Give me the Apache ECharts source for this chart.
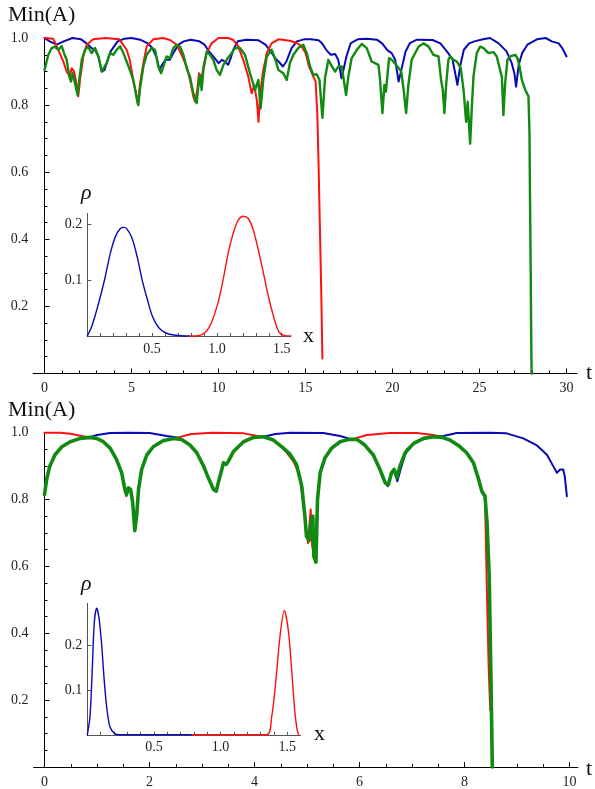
<!DOCTYPE html>
<html><head><meta charset="utf-8">
<script src="https://cdn.jsdelivr.net/npm/echarts@6/dist/echarts.min.js"></script>
<style>html,body{margin:0;padding:0;background:#fff}#c{width:595px;height:789px}</style>
</head><body><div id="c"></div>
<script>
// ---------- DATA ----------
// top panel: [t, Min(A)]
const topBlue = [[0,1.0],[0.3,0.99],[0.7,0.98],[1.1,0.99],[1.6,1.0],[2.1,0.996],[2.42,0.984],[2.7,0.97],[2.9,0.965],[3.1,0.945],[3.29,0.9],[3.45,0.905],[3.6,0.93],[3.8,0.96],[4.0,0.975],[4.2,0.99],[4.6,0.998],[5.0,1.0],[5.5,0.995],[5.9,0.985],[6.2,0.97],[6.45,0.94],[6.6,0.905],[6.75,0.92],[6.95,0.935],[7.2,0.935],[7.4,0.955],[7.7,0.98],[8.0,0.99],[8.4,0.995],[8.9,0.99],[9.2,0.98],[9.45,0.96],[9.7,0.945],[10.0,0.925],[10.2,0.935],[10.35,0.93],[10.55,0.92],[10.7,0.94],[10.85,0.965],[11.1,0.99],[11.6,0.995],[12.3,0.993],[12.7,0.98],[13.0,0.96],[13.25,0.94],[13.45,0.93],[13.7,0.915],[13.9,0.93],[14.2,0.97],[14.5,0.99],[14.9,0.996],[15.3,0.996],[15.75,0.993],[15.95,0.984],[16.2,0.964],[16.45,0.95],[16.7,0.952],[16.88,0.935],[16.98,0.905],[17.07,0.88],[17.2,0.91],[17.35,0.945],[17.6,0.985],[18.0,0.996],[18.5,0.998],[19.1,0.995],[19.4,0.984],[19.7,0.964],[19.95,0.955],[20.15,0.935],[20.35,0.87],[20.55,0.915],[20.75,0.96],[21.0,0.985],[21.4,0.995],[22.3,0.994],[22.75,0.984],[23.2,0.955],[23.45,0.935],[23.6,0.895],[23.73,0.86],[23.88,0.915],[24.1,0.965],[24.4,0.984],[24.7,0.99],[25.2,0.996],[25.6,1.0],[26.1,0.984],[26.55,0.96],[26.85,0.925],[27.0,0.895],[27.1,0.855],[27.25,0.92],[27.45,0.955],[27.75,0.98],[28.3,0.996],[28.8,1.0],[29.15,0.99],[29.55,0.984],[29.75,0.97],[30.0,0.945]];
const topRed = [[0,1.0],[0.5,0.998],[0.8,0.964],[1.08,0.93],[1.27,0.9],[1.45,0.885],[1.56,0.91],[1.7,0.9],[1.85,0.86],[1.94,0.826],[2.04,0.875],[2.23,0.945],[2.42,0.98],[2.8,0.996],[3.5,1.0],[4.3,0.996],[4.72,0.965],[4.9,0.935],[5.1,0.875],[5.3,0.826],[5.37,0.8],[5.49,0.865],[5.7,0.93],[5.87,0.975],[6.25,0.996],[6.83,1.0],[7.21,0.994],[7.6,0.98],[7.88,0.95],[8.17,0.915],[8.36,0.875],[8.55,0.826],[8.65,0.81],[8.78,0.845],[8.88,0.895],[8.98,0.86],[9.13,0.915],[9.32,0.955],[9.6,0.984],[10.0,1.0],[10.56,1.0],[10.85,0.994],[11.14,0.974],[11.42,0.935],[11.71,0.885],[11.9,0.835],[12.05,0.86],[12.2,0.815],[12.3,0.75],[12.38,0.826],[12.54,0.895],[12.77,0.955],[13.05,0.984],[13.44,0.996],[14.1,0.992],[14.5,0.985],[14.78,0.975],[15.0,0.955],[15.2,0.915],[15.45,0.885],[15.58,0.87],[15.68,0.77],[15.75,0.62],[15.82,0.45],[15.9,0.25],[15.97,0.045]];
const topGreen = [[0,0.905],[0.22,0.95],[0.41,0.97],[0.6,0.974],[0.8,0.965],[0.99,0.976],[1.12,0.955],[1.27,0.935],[1.43,0.885],[1.52,0.87],[1.62,0.895],[1.75,0.865],[1.9,0.83],[2.0,0.875],[2.14,0.935],[2.33,0.965],[2.5,0.974],[2.71,0.955],[2.9,0.97],[3.1,0.945],[3.29,0.9],[3.4,0.9],[3.57,0.925],[3.76,0.955],[3.95,0.95],[4.15,0.965],[4.35,0.975],[4.53,0.955],[4.72,0.93],[4.9,0.905],[5.1,0.875],[5.3,0.82],[5.39,0.8],[5.49,0.85],[5.68,0.915],[5.87,0.95],[6.16,0.97],[6.35,0.965],[6.54,0.915],[6.7,0.895],[6.83,0.915],[7.02,0.945],[7.21,0.94],[7.4,0.97],[7.6,0.98],[7.79,0.974],[7.98,0.95],[8.17,0.91],[8.36,0.885],[8.55,0.835],[8.74,0.806],[8.84,0.855],[8.93,0.89],[9.03,0.845],[9.13,0.905],[9.32,0.96],[9.51,0.95],[9.7,0.935],[9.89,0.905],[10.08,0.89],[10.28,0.92],[10.47,0.935],[10.75,0.955],[10.95,0.97],[11.23,0.97],[11.52,0.95],[11.81,0.895],[12.1,0.845],[12.29,0.875],[12.42,0.79],[12.57,0.875],[12.77,0.945],[13.05,0.965],[13.24,0.94],[13.44,0.905],[13.72,0.895],[13.92,0.875],[14.1,0.925],[14.3,0.95],[14.58,0.97],[14.87,0.98],[15.07,0.955],[15.26,0.915],[15.45,0.89],[15.64,0.892],[15.8,0.875],[15.97,0.762],[16.12,0.88],[16.31,0.935],[16.5,0.917],[16.7,0.9],[16.89,0.915],[17.08,0.915],[17.33,0.83],[17.46,0.885],[17.65,0.94],[17.94,0.964],[18.23,0.982],[18.52,0.97],[18.8,0.93],[19.19,0.92],[19.28,0.877],[19.42,0.776],[19.53,0.86],[19.62,0.84],[19.8,0.94],[19.95,0.935],[20.2,0.92],[20.5,0.9],[20.65,0.84],[20.78,0.776],[20.91,0.86],[21.1,0.935],[21.49,0.974],[21.77,0.984],[22.06,0.975],[22.35,0.95],[22.64,0.945],[22.79,0.875],[22.89,0.845],[22.98,0.776],[23.08,0.86],[23.21,0.935],[23.31,0.945],[23.5,0.935],[23.69,0.93],[23.92,0.91],[24.08,0.845],[24.23,0.75],[24.32,0.81],[24.46,0.685],[24.55,0.786],[24.65,0.885],[24.84,0.955],[25.03,0.974],[25.23,0.97],[25.51,0.955],[25.8,0.958],[25.99,0.945],[26.18,0.905],[26.28,0.885],[26.37,0.77],[26.47,0.865],[26.6,0.935],[26.76,0.945],[27.05,0.95],[27.18,0.94],[27.3,0.915],[27.43,0.875],[27.62,0.846],[27.81,0.826],[27.87,0.717],[27.9,0.52],[27.94,0.3],[27.97,0.1],[27.99,0.0]];

// bottom panel: [t, Min(A)]
const botBlue = [[0,0.815],[0.04,0.86],[0.1,0.9],[0.2,0.934],[0.33,0.958],[0.49,0.973],[0.68,0.983],[0.85,0.986],[1.0,0.993],[1.25,0.999],[1.6,1.0],[2.0,0.999],[2.33,0.99],[2.55,0.985],[2.61,0.98],[2.77,0.963],[2.9,0.94],[3.03,0.9],[3.12,0.865],[3.22,0.83],[3.27,0.825],[3.31,0.85],[3.36,0.88],[3.41,0.91],[3.46,0.905],[3.5,0.914],[3.6,0.944],[3.79,0.973],[3.98,0.986],[4.17,0.988],[4.4,0.996],[4.68,1.0],[5.31,0.999],[5.63,0.99],[5.85,0.98],[5.95,0.98],[6.1,0.963],[6.26,0.934],[6.39,0.89],[6.49,0.85],[6.54,0.84],[6.61,0.88],[6.66,0.89],[6.72,0.855],[6.8,0.9],[6.9,0.95],[7.09,0.973],[7.34,0.988],[7.6,0.99],[7.85,0.999],[8.49,1.0],[8.8,0.998],[9.12,0.983],[9.37,0.963],[9.57,0.934],[9.69,0.9],[9.76,0.88],[9.82,0.89],[9.88,0.89],[9.91,0.87],[9.95,0.81]];
const botRed = [[0,1.0],[0.3,1.0],[0.5,0.997],[0.7,0.99],[0.87,0.986],[0.99,0.983],[1.12,0.973],[1.25,0.954],[1.37,0.92],[1.47,0.88],[1.53,0.83],[1.56,0.81],[1.6,0.835],[1.64,0.83],[1.68,0.79],[1.72,0.707],[1.76,0.76],[1.79,0.83],[1.85,0.89],[1.95,0.934],[2.07,0.958],[2.26,0.976],[2.45,0.983],[2.55,0.986],[2.8,0.996],[3.2,1.0],[3.8,0.998],[4.05,0.99],[4.17,0.988],[4.36,0.978],[4.55,0.954],[4.74,0.914],[4.87,0.87],[4.96,0.74],[5.02,0.67],[5.07,0.77],[5.1,0.66],[5.15,0.62],[5.2,0.8],[5.25,0.88],[5.34,0.924],[5.47,0.954],[5.63,0.973],[5.85,0.98],[6.14,0.993],[6.58,0.999],[7.09,0.999],[7.41,0.993],[7.6,0.986],[7.72,0.978],[7.9,0.96],[8.04,0.94],[8.17,0.91],[8.26,0.865],[8.33,0.825],[8.39,0.81],[8.43,0.5],[8.46,0.3],[8.49,0.17]];
const botGreen = [[0,0.815],[0.04,0.86],[0.1,0.9],[0.2,0.934],[0.33,0.958],[0.49,0.973],[0.68,0.983],[0.87,0.986],[0.99,0.983],[1.12,0.973],[1.25,0.954],[1.37,0.92],[1.47,0.88],[1.53,0.83],[1.56,0.815],[1.6,0.835],[1.64,0.83],[1.68,0.79],[1.72,0.707],[1.76,0.76],[1.79,0.83],[1.85,0.89],[1.95,0.934],[2.07,0.958],[2.26,0.976],[2.45,0.983],[2.61,0.98],[2.77,0.963],[2.9,0.94],[3.03,0.9],[3.12,0.865],[3.22,0.83],[3.27,0.825],[3.31,0.85],[3.36,0.88],[3.41,0.91],[3.46,0.905],[3.5,0.914],[3.6,0.944],[3.79,0.973],[3.98,0.986],[4.17,0.988],[4.36,0.978],[4.55,0.954],[4.68,0.935],[4.8,0.905],[4.9,0.84],[4.96,0.75],[4.99,0.69],[5.04,0.677],[5.07,0.73],[5.11,0.75],[5.13,0.63],[5.17,0.613],[5.2,0.8],[5.25,0.88],[5.34,0.924],[5.47,0.954],[5.63,0.973],[5.79,0.98],[5.95,0.98],[6.1,0.963],[6.26,0.934],[6.39,0.89],[6.49,0.85],[6.55,0.845],[6.61,0.88],[6.66,0.89],[6.71,0.865],[6.77,0.9],[6.87,0.94],[7.03,0.968],[7.22,0.983],[7.41,0.988],[7.57,0.986],[7.72,0.978],[7.9,0.96],[8.04,0.94],[8.17,0.91],[8.26,0.865],[8.33,0.825],[8.39,0.81],[8.43,0.73],[8.47,0.573],[8.5,0.3],[8.53,0.0]];

// insets: [x, rho]
const insetTopBlue = [[0,0],[0.034,0.017],[0.073,0.047],[0.1,0.07],[0.138,0.106],[0.177,0.148],[0.216,0.178],[0.255,0.193],[0.281,0.195],[0.307,0.192],[0.346,0.175],[0.385,0.142],[0.424,0.1],[0.464,0.065],[0.503,0.035],[0.555,0.014],[0.62,0.004],[0.7,0.001],[0.785,0]];
const insetTopRed = [[0.785,0],[0.83,0],[0.88,0.002],[0.917,0.008],[0.956,0.023],[1.008,0.059],[1.047,0.1],[1.086,0.148],[1.125,0.184],[1.164,0.208],[1.203,0.215],[1.242,0.211],[1.281,0.19],[1.32,0.154],[1.359,0.113],[1.398,0.07],[1.437,0.035],[1.477,0.008],[1.516,0.001],[1.57,0]];
const insetBotBlue = [[0,0],[0.02,0.04],[0.037,0.145],[0.052,0.25],[0.07,0.284],[0.087,0.264],[0.107,0.205],[0.125,0.13],[0.145,0.063],[0.17,0.018],[0.207,0.002],[0.245,0],[0.785,0]];
const insetBotRed = [[0.785,0],[1.345,0],[1.383,0.04],[1.415,0.123],[1.445,0.22],[1.478,0.279],[1.508,0.234],[1.533,0.145],[1.558,0.048],[1.575,0.01],[1.585,0]];

// tick values
const topXMajor = [0,5,10,15,20,25,30];
const topXMinor = [1,2,3,4,6,7,8,9,11,12,13,14,16,17,18,19,21,22,23,24,26,27,28,29];
const botXMajor = [0,2,4,6,8,10];
const botXMinor = [0.5,1,1.5,2.5,3,3.5,4.5,5,5.5,6.5,7,7.5,8.5,9,9.5];
const insetXLabels = [0.5,1.0,1.5];
const insetXTicks = [0.1,0.2,0.3,0.4,0.5,0.6,0.7,0.8,0.9,1.0,1.1,1.2,1.3,1.4,1.5];
const insetYTicks = [0.1,0.2];

// ---------- CHART ----------
const FONT = '"Liberation Serif","Times New Roman",serif';
const BLUE = '#0a0ab4', RED = '#ff1010', GREEN = '#118a11';
const chart = echarts.init(document.getElementById('c'), null, {renderer: 'canvas'});

function xPair(grid, min, max, major, minor) {
  const common = {gridIndex: grid, type: 'value', min: min, max: max, position: 'bottom',
    splitLine: {show: false}};
  return [
    Object.assign({}, common, {
      axisLine: {show: true, onZero: true, lineStyle: {color: '#000', width: 1}},
      axisTick: {show: true, inside: true, length: 5, customValues: major, lineStyle: {color: '#000'}},
      axisLabel: {show: true, customValues: major, fontFamily: FONT, fontSize: 14, color: '#222', margin: 8}
    }),
    Object.assign({}, common, {
      axisLine: {show: false, onZero: true},
      axisTick: {show: true, inside: true, length: 3, customValues: minor, lineStyle: {color: '#000'}},
      axisLabel: {show: false}
    })
  ];
}
function mainY(grid) {
  return {gridIndex: grid, type: 'value', min: 0, max: 1, interval: 0.2,
    axisLine: {show: true, onZero: true, lineStyle: {color: '#000', width: 1}},
    axisTick: {show: true, inside: true, length: 5, lineStyle: {color: '#000'}},
    minorTick: {show: true, splitNumber: 4, length: 3, lineStyle: {color: '#000'}},
    splitLine: {show: false}, minorSplitLine: {show: false},
    axisLabel: {formatter: v => v === 0 ? '' : v.toFixed(1), fontFamily: FONT, fontSize: 14, color: '#222', margin: 5}};
}
function insetX(grid, max) {
  return {gridIndex: grid, type: 'value', min: 0, max: max, position: 'bottom',
    axisLine: {show: true, onZero: true, lineStyle: {color: '#555', width: 1}},
    axisTick: {show: true, inside: true, length: 3, customValues: insetXTicks, lineStyle: {color: '#555'}},
    axisLabel: {customValues: insetXLabels, formatter: v => v.toFixed(1), fontFamily: FONT, fontSize: 14, color: '#222', margin: 6},
    splitLine: {show: false}};
}
function insetY(grid, max) {
  return {gridIndex: grid, type: 'value', min: 0, max: max,
    axisLine: {show: true, onZero: true, lineStyle: {color: '#555', width: 1}},
    axisTick: {show: true, inside: true, length: 4, customValues: insetYTicks, lineStyle: {color: '#555'}},
    axisLabel: {customValues: insetYTicks, formatter: v => v.toFixed(1), fontFamily: FONT, fontSize: 14, color: '#222', margin: 5},
    splitLine: {show: false}};
}
function line(data, xi, yi, color, width, z, smooth) {
  return {type: 'line', data: data, xAxisIndex: xi, yAxisIndex: yi, showSymbol: false, symbol: 'none',
    smooth: smooth || false, clip: false, z: z, animation: false,
    lineStyle: {color: color, width: width, join: 'round', cap: 'round'}};
}

const xAxes = [].concat(
  xPair(0, -0.65, 30.6, topXMajor, topXMinor),
  xPair(1, -0.21, 10.16, botXMajor, botXMinor),
  [insetX(2, 1.57), insetX(3, 1.6)]
);

chart.setOption({
  animation: false,
  backgroundColor: '#fff',
  grid: [
    {left: 33.2, top: 38, width: 543.8, height: 335.5},
    {left: 33.5, top: 432.7, width: 544.4, height: 336.8},
    {left: 87.3, top: 213.5, width: 203.5, height: 122.5},
    {left: 87.3, top: 603.4, width: 213.3, height: 131.4}
  ],
  xAxis: xAxes,
  yAxis: [mainY(0), mainY(1), insetY(2, 0.22), insetY(3, 0.295)],
  series: [
    line(topBlue, 0, 0, BLUE, 2, 2),
    line(topRed, 0, 0, RED, 2, 3),
    line(topGreen, 0, 0, GREEN, 2.4, 4),
    line(botBlue, 2, 1, BLUE, 2, 2),
    line(botRed, 2, 1, RED, 2, 3),
    line(botGreen, 2, 1, GREEN, 3.6, 4),
    line(insetTopBlue, 4, 2, BLUE, 1.4, 5, 0.3),
    line(insetTopRed, 4, 2, RED, 1.4, 5, 0.3),
    line(insetBotBlue, 5, 3, BLUE, 1.4, 5, 0.3),
    line(insetBotRed, 5, 3, RED, 1.4, 5, 0.3)
  ],
  graphic: [
    {type: 'text', left: 8, top: 4, style: {text: 'Min(A)', font: '22px ' + FONT, fill: '#111'}},
    {type: 'text', left: 8, top: 399, style: {text: 'Min(A)', font: '22px ' + FONT, fill: '#111'}},
    {type: 'text', left: 586, top: 362, style: {text: 't', font: '22px ' + FONT, fill: '#111'}},
    {type: 'text', left: 586, top: 758, style: {text: 't', font: '22px ' + FONT, fill: '#111'}},
    {type: 'text', left: 81, top: 182, style: {text: 'ρ', font: 'italic 22px ' + FONT, fill: '#111'}},
    {type: 'text', left: 81, top: 573, style: {text: 'ρ', font: 'italic 22px ' + FONT, fill: '#111'}},
    {type: 'text', left: 303, top: 325, style: {text: 'x', font: '22px ' + FONT, fill: '#111'}},
    {type: 'text', left: 314, top: 723, style: {text: 'x', font: '22px ' + FONT, fill: '#111'}}
  ]
});
</script></body></html>
